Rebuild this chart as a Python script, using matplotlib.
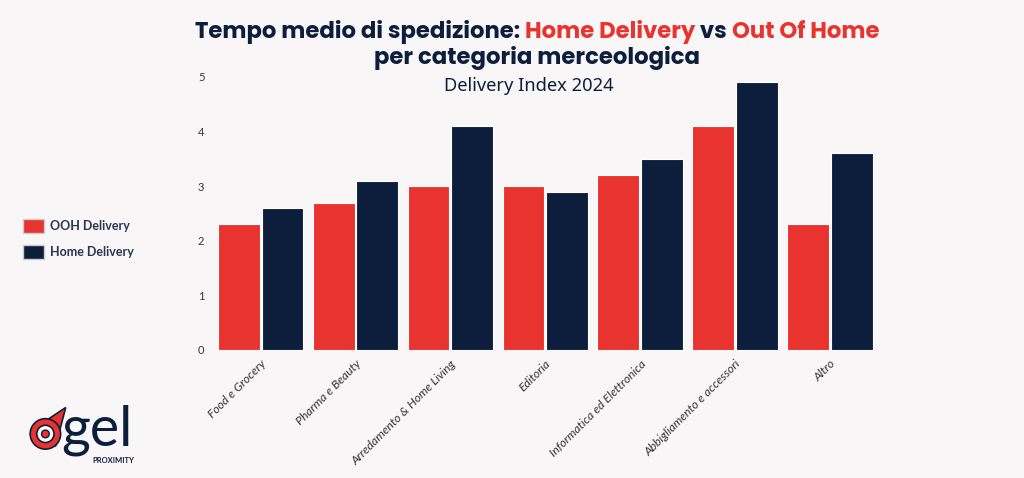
import numpy as np
import matplotlib.pyplot as plt
from matplotlib.patches import Circle, Polygon, Patch

categories = ["Food e Grocery", "Pharma e Beauty", "Arredamento & Home Living",
              "Editoria", "Informatica ed Elettronica", "Abbigliamento e accessori", "Altro"]
ooh = [2.3, 2.7, 3.0, 3.0, 3.2, 4.1, 2.3]
home = [2.6, 3.1, 4.1, 2.9, 3.5, 4.9, 3.6]

RED = "#e8332e"
NAVY = "#0d1e3d"
BG = "#f9f6f7"

plt.rcParams['font.family'] = ['Lato', 'DejaVu Sans']

fig = plt.figure(figsize=(10.24, 4.78), dpi=100, facecolor=BG)
ax = fig.add_axes([0.205, 0.268, 0.655, 0.571], facecolor=BG)

x = np.arange(len(categories))
w = 0.44
ax.bar(x - 0.23, ooh, w, color=RED, edgecolor="white", linewidth=0.8, label="OOH Delivery")
ax.bar(x + 0.23, home, w, color=NAVY, edgecolor="white", linewidth=0.8, label="Home Delivery")

ax.set_xlim(-0.534, len(categories) - 0.466)
ax.set_ylim(0, 5)
ax.set_yticks(range(6))
ax.set_xticks(x)
ax.set_xticklabels(categories, rotation=45, ha="right", rotation_mode="anchor",
                   fontsize=8.7, style="italic", color="#333333")
ax.tick_params(axis="y", length=0, labelsize=8, labelcolor="#333333", pad=4)
ax.tick_params(axis="x", length=0, pad=6)
for s in ax.spines.values():
    s.set_visible(False)

# legend on the left
handles = [Patch(facecolor=RED, edgecolor="#cccccc", label="OOH Delivery"),
           Patch(facecolor=NAVY, edgecolor="#cccccc", label="Home Delivery")]
fig.legend(handles=handles, loc="center left", bbox_to_anchor=(0.011, 0.5),
           frameon=False, handlelength=1.7, handleheight=1.3,
           labelspacing=1.0, handletextpad=0.5,
           prop={"family": ["Lato", "DejaVu Sans"], "weight": "bold", "size": 9})
for t in fig.legends[0].get_texts():
    t.set_color("#2a3550")

# multi-coloured title
parts = [("Tempo medio di spedizione: ", NAVY), ("Home Delivery", RED),
         (" vs ", NAVY), ("Out Of Home", RED)]
tfont = dict(fontsize=16.4, fontweight="bold", family=["Poppins", "Noto Sans", "DejaVu Sans"])
renderer = fig.canvas.get_renderer()
texts = []
for s, c in parts:
    texts.append(fig.text(0, 1 - 32 / 478, s, color=c, va="center", ha="left", **tfont))
widths = [t.get_window_extent(renderer).width for t in texts]
total = sum(widths)
xpos = 537 - total / 2
for t, wd in zip(texts, widths):
    t.set_x(xpos / 1024)
    xpos += wd
fig.text(537 / 1024, 1 - 58 / 478, "per categoria merceologica", color=NAVY,
         ha="center", va="center", **tfont)
fig.text(529 / 1024, 1 - 86 / 478, "Delivery Index 2024", color=NAVY,
         ha="center", va="center", fontsize=13.2, fontweight="medium",
         family=["Noto Sans", "DejaVu Sans"])

# logo
lax = fig.add_axes([0.02, 0.02, 0.13, 0.17], facecolor="none")
lax.set_xlim(0, 130)
lax.set_ylim(0, 80)
lax.set_aspect("equal")
lax.axis("off")
lax.add_patch(Polygon([[44, 60], [14, 40], [34, 22]], closed=True, facecolor=RED,
                      edgecolor=NAVY, linewidth=1.2, zorder=1))
lax.add_patch(Circle((24, 34), 15, facecolor=RED, edgecolor="none", zorder=2))
lax.add_patch(Circle((24, 34), 15, facecolor="none", edgecolor=NAVY, linewidth=1.2, zorder=2))
lax.add_patch(Circle((24, 34), 8.5, facecolor="white", edgecolor=NAVY, linewidth=1.2, zorder=3))
lax.add_patch(Circle((24, 34), 3.8, facecolor=RED, edgecolor=NAVY, linewidth=1, zorder=4))
lax.text(40, 38, "gel", color=NAVY, fontsize=40, va="center", ha="left",
         family=["Lato", "DejaVu Sans"])
lax.text(70, 8, "PROXIMITY", color=NAVY, fontsize=5.5, fontweight="bold", va="center",
         ha="left", family=["Lato", "DejaVu Sans"])

fig.savefig("out.png", dpi=100, facecolor=BG)
